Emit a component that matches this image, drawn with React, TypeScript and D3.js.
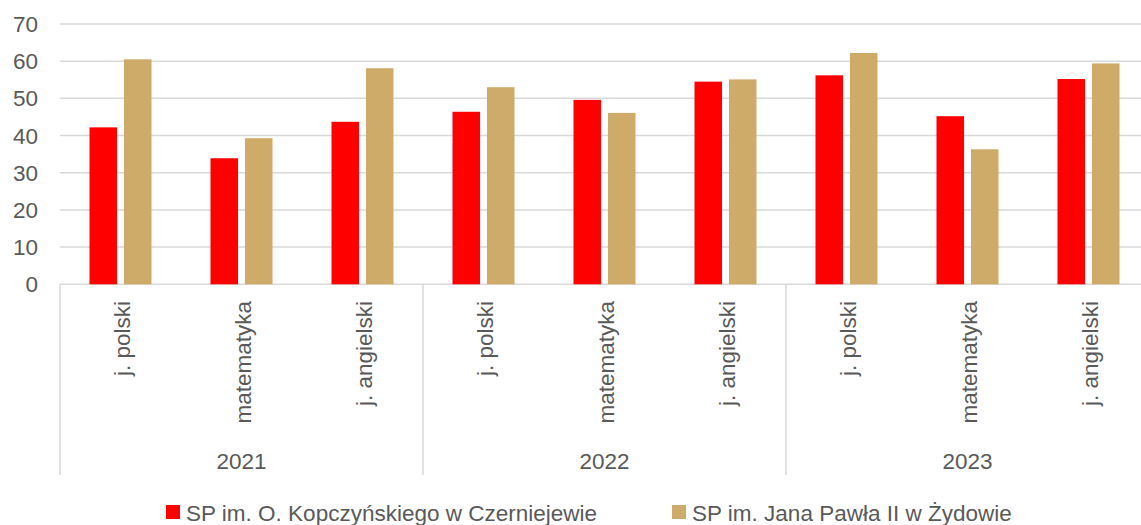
import React, { useEffect, useRef } from 'react';
import { select, scaleBand, scaleLinear, range } from 'd3';

// categories and values
const years = ['2021', '2022', '2023'];
const subjects = ['j. polski', 'matematyka', 'j. angielski'];
const seriesNames = [
  'SP im. O. Kopczyńskiego w Czerniejewie',
  'SP im. Jana Pawła II w Żydowie',
];
const czerniejewo = [42.2, 33.9, 43.7, 46.4, 49.6, 54.5, 56.2, 45.2, 55.2];
const zydowo = [60.5, 39.3, 58.1, 53.0, 46.1, 55.1, 62.2, 36.3, 59.4];
const yTicks = [0, 10, 20, 30, 40, 50, 60, 70];

const colors = ['#FF0000', '#CFAB69'];
const textColor = '#595959';
const gridColor = '#D9D9D9';
const font = '"Liberation Sans", Arial, sans-serif';

const W = 1141;
const H = 525;

const App = () => {
  const svgRef = useRef<SVGSVGElement>(null);

  useEffect(() => {
    const svg = select(svgRef.current);
    svg.selectAll('*').remove();

    const rows = years.flatMap((yr, gi) =>
      subjects.map((s, si) => ({
        key: `${yr}|${s}`,
        year: yr,
        subject: s,
        values: [czerniejewo[gi * 3 + si], zydowo[gi * 3 + si]],
      }))
    );

    const x0 = scaleBand()
      .domain(rows.map((r) => r.key))
      .range([60, 1149]);
    const x1 = scaleBand()
      .domain(seriesNames)
      .range([29.5, 91.5])
      .paddingInner(0.2);
    const y = scaleLinear().domain([0, 70]).range([284.3, 24]);

    // gridlines
    svg
      .append('g')
      .selectAll('line')
      .data(yTicks)
      .join('line')
      .attr('x1', 60)
      .attr('x2', W)
      .attr('y1', (d) => y(d))
      .attr('y2', (d) => y(d))
      .attr('stroke', gridColor)
      .attr('stroke-width', 1.5);

    // y tick labels
    svg
      .append('g')
      .selectAll('text')
      .data(yTicks)
      .join('text')
      .attr('x', 38)
      .attr('y', (d) => y(d))
      .attr('dy', '0.36em')
      .attr('text-anchor', 'end')
      .attr('font-size', 22.5)
      .attr('font-family', font)
      .attr('fill', textColor)
      .text((d) => d);

    // bars
    svg
      .append('g')
      .selectAll('g')
      .data(rows)
      .join('g')
      .attr('transform', (r) => `translate(${x0(r.key)},0)`)
      .selectAll('rect')
      .data((r) => r.values.map((v, i) => ({ v, i })))
      .join('rect')
      .attr('x', (d) => x1(seriesNames[d.i]))
      .attr('width', x1.bandwidth())
      .attr('y', (d) => y(d.v))
      .attr('height', (d) => y(0) - y(d.v))
      .attr('fill', (d) => colors[d.i]);

    // category axis: separators between years
    const sepX = range(0, years.length + 1).map((g) => x0.range()[0] + g * 3 * x0.step());
    svg
      .append('g')
      .selectAll('line')
      .data(sepX)
      .join('line')
      .attr('x1', (d) => d)
      .attr('x2', (d) => d)
      .attr('y1', y(0))
      .attr('y2', 475)
      .attr('stroke', gridColor)
      .attr('stroke-width', 1.5);

    // subject labels (rotated)
    svg
      .append('g')
      .selectAll('text')
      .data(rows)
      .join('text')
      .attr(
        'transform',
        (r) => `translate(${x0(r.key) + x0.bandwidth() / 2 + 2},301) rotate(-90)`
      )
      .attr('dy', '0.35em')
      .attr('text-anchor', 'end')
      .attr('font-size', 22.5)
      .attr('font-family', font)
      .attr('fill', textColor)
      .text((r) => r.subject);

    // year labels
    svg
      .append('g')
      .selectAll('text')
      .data(years)
      .join('text')
      .attr('x', (d, i) => x0.range()[0] + (i * 3 + 1.5) * x0.step())
      .attr('y', 469)
      .attr('text-anchor', 'middle')
      .attr('font-size', 22.5)
      .attr('font-family', font)
      .attr('fill', textColor)
      .text((d) => d);

    // legend
    const legendX = [166, 672];
    const legend = svg
      .append('g')
      .selectAll('g')
      .data(seriesNames)
      .join('g')
      .attr('transform', (d, i) => `translate(${legendX[i]},505)`);
    legend
      .append('rect')
      .attr('width', 14)
      .attr('height', 14)
      .attr('fill', (d, i) => colors[i]);
    legend
      .append('text')
      .attr('x', 20)
      .attr('y', 15.5)
      .attr('font-size', 22.5)
      .attr('font-family', font)
      .attr('fill', textColor)
      .text((d) => d);
  }, []);

  return (
    <div style={{ position: 'absolute', left: 0, top: 0, width: W, height: H, background: '#fff' }}>
      <svg ref={svgRef} width={W} height={H} style={{ display: 'block', overflow: 'hidden' }} />
    </div>
  );
};

export default App;
